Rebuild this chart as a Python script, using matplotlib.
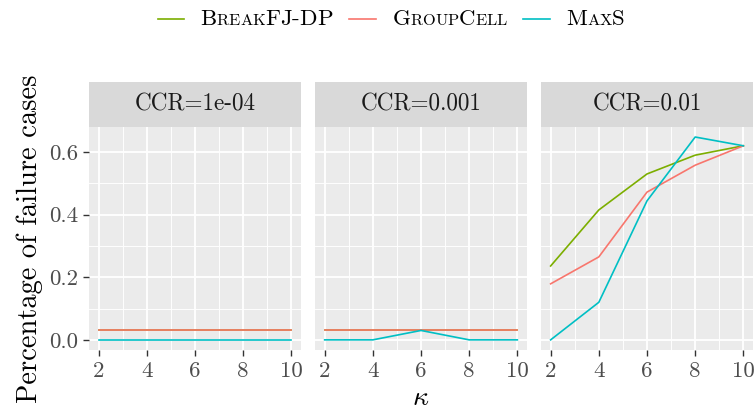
import matplotlib
matplotlib.use("Agg")
import matplotlib.pyplot as plt
from matplotlib.lines import Line2D
from matplotlib.offsetbox import TextArea, DrawingArea, HPacker, AnchoredOffsetbox

plt.rcParams['font.family'] = ['cmr10', 'DejaVu Serif']
plt.rcParams['mathtext.fontset'] = 'cm'
plt.rcParams['axes.formatter.use_mathtext'] = True

# Daten
kappa = [2, 4, 6, 8, 10]
ccr_labels = ["CCR=1e-04", "CCR=0.001", "CCR=0.01"]
methods = ["BreakFJ-DP", "GroupCell", "MaxS"]
colors = ["#7CAE00", "#F8766D", "#00BFC4"]

breakfj = [
    [0.03, 0.03, 0.03, 0.03, 0.03],
    [0.03, 0.03, 0.03, 0.03, 0.03],
    [0.236, 0.415, 0.53, 0.59, 0.62],
]
groupcell = [
    [0.03, 0.03, 0.03, 0.03, 0.03],
    [0.03, 0.03, 0.03, 0.03, 0.03],
    [0.179, 0.265, 0.472, 0.558, 0.62],
]
maxs = [
    [0.0, 0.0, 0.0, 0.0, 0.0],
    [0.0, 0.0, 0.03, 0.0, 0.0],
    [0.0, 0.12, 0.444, 0.648, 0.62],
]
series = [breakfj, groupcell, maxs]

y_ticks = [0.0, 0.2, 0.4, 0.6]
y_tick_labels = ["0.0", "0.2", "0.4", "0.6"]

W, H = 756, 417
fig = plt.figure(figsize=(W / 100, H / 100), dpi=100)

panel_left = [89, 315, 541]
panel_w = 212
panel_top, panel_bot = 127, 350
strip_top = 82

for p in range(3):
    ax = fig.add_axes([panel_left[p] / W, 1 - panel_bot / H,
                       panel_w / W, (panel_bot - panel_top) / H])
    ax.set_facecolor("#EBEBEB")
    for s in ax.spines.values():
        s.set_visible(False)
    ax.set_xlim(1.6, 10.4)
    ax.set_ylim(-0.0324, 0.68)
    ax.set_xticks(kappa)
    ax.set_xticks([3, 5, 7, 9], minor=True)
    ax.set_yticks(y_ticks)
    ax.set_yticks([0.1, 0.3, 0.5], minor=True)
    ax.grid(True, which="major", color="white", lw=1.3)
    ax.grid(True, which="minor", color="white", lw=0.65)
    ax.set_axisbelow(True)
    ax.tick_params(which="minor", length=0)
    ax.tick_params(which="major", length=4.5, width=1.0, color="#333333",
                   labelsize=16.5, labelcolor="#4D4D4D", pad=3.5)
    ax.set_xticklabels([str(k) for k in kappa])
    if p == 0:
        ax.set_yticklabels(y_tick_labels)
        ax.set_ylabel("Percentage of failure cases", fontsize=20.5, labelpad=4)
    else:
        ax.tick_params(axis="y", left=False, labelleft=False)
    if p == 1:
        ax.set_xlabel(r"$\kappa$", fontsize=20, labelpad=3)

    for m in range(3):
        ax.plot(kappa, series[m][p], color=colors[m], lw=1.2)

    # Streifen oben
    sax = fig.add_axes([panel_left[p] / W, 1 - panel_top / H,
                        panel_w / W, (panel_top - strip_top) / H])
    sax.set_facecolor("#D9D9D9")
    sax.set_xticks([])
    sax.set_yticks([])
    for s in sax.spines.values():
        s.set_visible(False)
    sax.text(0.5, 0.5, ccr_labels[p], ha="center", va="center",
             fontsize=16.7, color="#1A1A1A", transform=sax.transAxes)


# Legende mit Kapitaelchen
def smallcaps(label, big=16.5, small=11.8):
    parts = []
    for ch in label:
        if ch.islower():
            parts.append(TextArea(ch.upper(), textprops=dict(fontsize=small)))
        else:
            parts.append(TextArea(ch, textprops=dict(fontsize=big)))
    return HPacker(children=parts, align="baseline", pad=0, sep=0)


children = []
for name, c in zip(methods, colors):
    da = DrawingArea(19, 8, 0, 0)
    da.add_artist(Line2D([0, 19], [4, 4], color=c, lw=1.2))
    children.append(HPacker(children=[da, smallcaps(name)], align="center", pad=0, sep=12))
legend_box = HPacker(children=children, align="center", pad=0, sep=12)
anchored = AnchoredOffsetbox(loc="center", child=legend_box, frameon=False,
                             bbox_to_anchor=(391 / W, 1 - 19 / H),
                             bbox_transform=fig.transFigure, borderpad=0, pad=0)
fig.add_artist(anchored)

fig.savefig("out.png", dpi=100)
